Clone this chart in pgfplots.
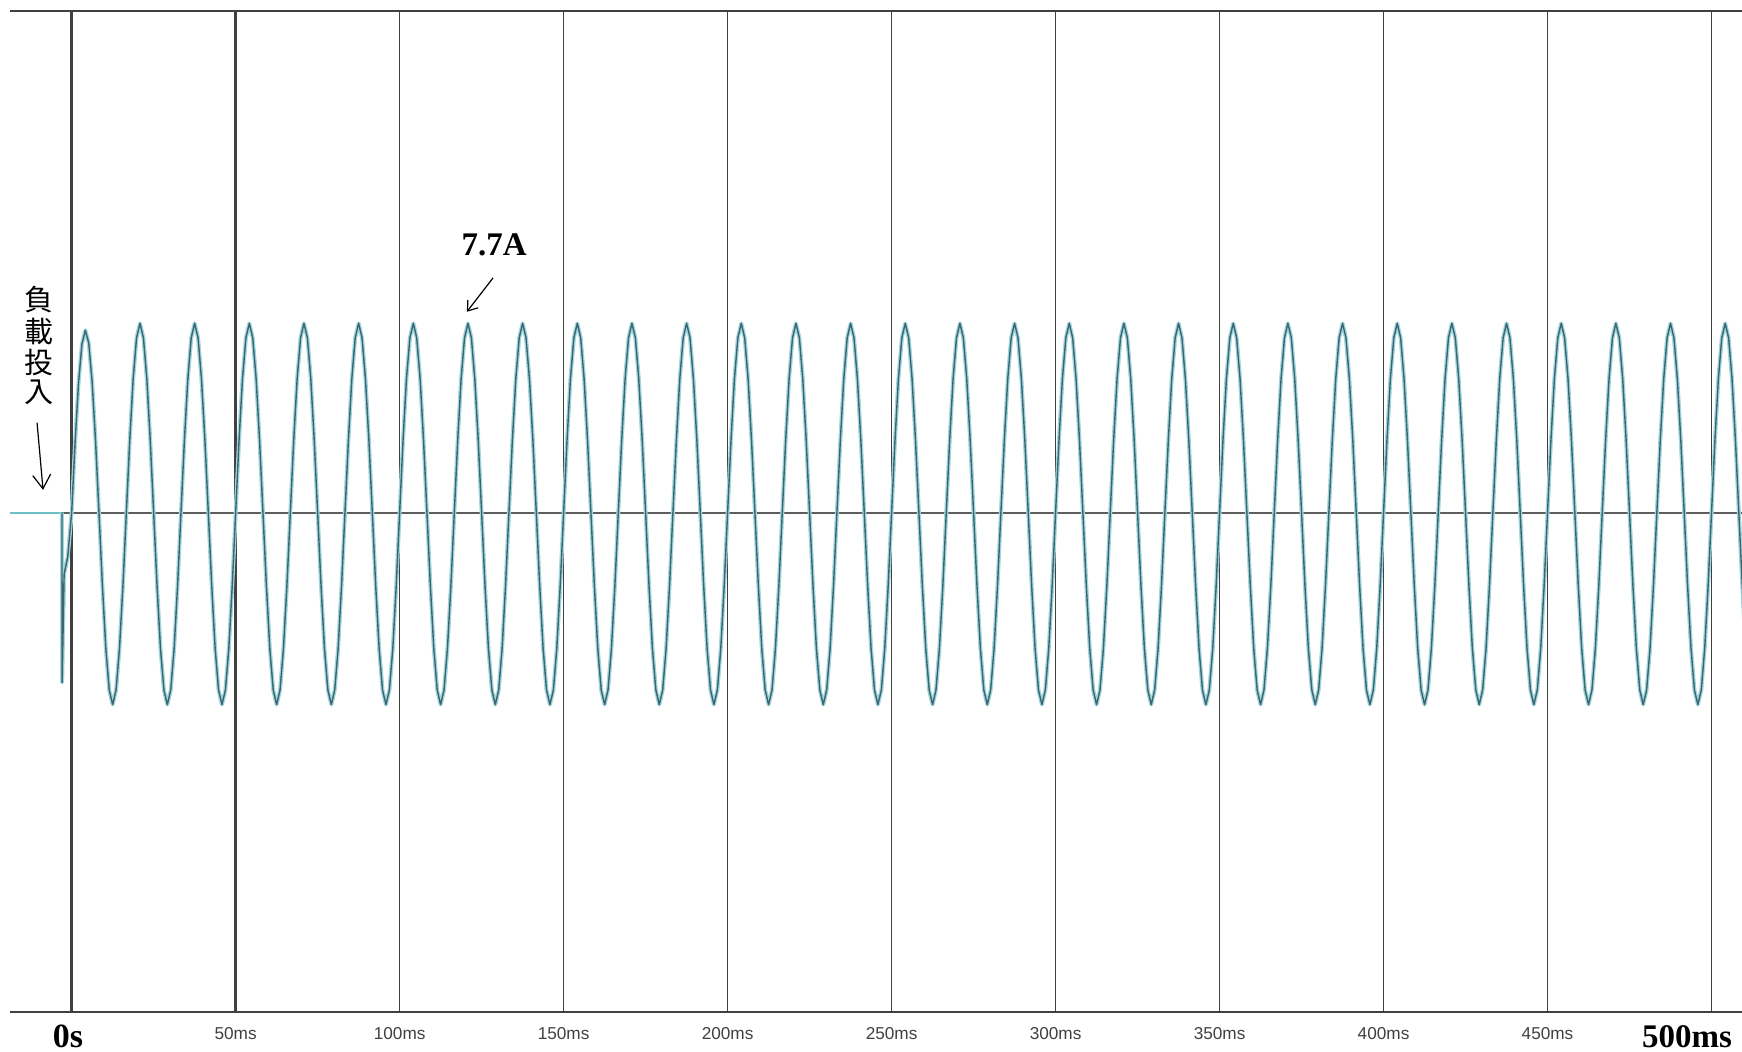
\documentclass[border=0pt]{standalone}
\usepackage{pgfplots}
\usepackage{pgfplotstable}
\pgfplotsset{compat=1.18}
\usepackage{fontspec}
\setmainfont{Liberation Serif}
\newfontfamily\labfont{Liberation Sans}
\newfontfamily\cjk{Noto Sans CJK TC}
\usetikzlibrary{arrows.meta}
\definecolor{gridc}{RGB}{64,64,64}
\definecolor{halo}{RGB}{160,214,224}
\definecolor{trace}{RGB}{62,100,110}
\definecolor{pre}{RGB}{110,190,200}
\definecolor{lab}{RGB}{64,64,64}

\pgfplotstableread[row sep=\\]{
t y\\
-2.95 0\\ -2.9 -6.9\\ -2.3 -2.5\\ -1.2 -1.8\\
0 0\\ 1.04 2.85\\ 2.08 5.25\\ 3.13 6.85\\ 4.17 7.42\\ 5.21 6.9\\ 6.25 5.3\\ 7.29 2.9\\ 8.33 0\\ 9.38 -2.98\\ 10.42 -5.52\\ 11.46 -7.21\\ 12.5 -7.8\\ 13.54 -7.21\\ 14.58 -5.52\\ 15.63 -2.98\\ 16.67 0\\ 17.71 2.95\\ 18.75 5.44\\ 19.79 7.11\\ 20.83 7.7\\ 21.88 7.11\\ 22.92 5.44\\ 23.96 2.95\\
25 0\\ 26.04 -2.98\\ 27.08 -5.52\\ 28.13 -7.21\\ 29.17 -7.8\\ 30.21 -7.21\\ 31.25 -5.52\\ 32.29 -2.98\\ 33.33 0\\ 34.38 2.95\\ 35.42 5.44\\ 36.46 7.11\\ 37.5 7.7\\ 38.54 7.11\\ 39.58 5.44\\ 40.63 2.95\\ 41.67 0\\ 42.71 -2.98\\ 43.75 -5.52\\ 44.79 -7.21\\ 45.83 -7.8\\ 46.88 -7.21\\ 47.92 -5.52\\ 48.96 -2.98\\
50 0\\ 51.04 2.95\\ 52.08 5.44\\ 53.13 7.11\\ 54.17 7.7\\ 55.21 7.11\\ 56.25 5.44\\ 57.29 2.95\\ 58.33 0\\ 59.38 -2.98\\ 60.42 -5.52\\ 61.46 -7.21\\ 62.5 -7.8\\ 63.54 -7.21\\ 64.58 -5.52\\ 65.63 -2.98\\ 66.67 0\\ 67.71 2.95\\ 68.75 5.44\\ 69.79 7.11\\ 70.83 7.7\\ 71.88 7.11\\ 72.92 5.44\\ 73.96 2.95\\
75 0\\ 76.04 -2.98\\ 77.08 -5.52\\ 78.13 -7.21\\ 79.17 -7.8\\ 80.21 -7.21\\ 81.25 -5.52\\ 82.29 -2.98\\ 83.33 0\\ 84.38 2.95\\ 85.42 5.44\\ 86.46 7.11\\ 87.5 7.7\\ 88.54 7.11\\ 89.58 5.44\\ 90.63 2.95\\ 91.67 0\\ 92.71 -2.98\\ 93.75 -5.52\\ 94.79 -7.21\\ 95.83 -7.8\\ 96.88 -7.21\\ 97.92 -5.52\\ 98.96 -2.98\\
100 0\\ 101.04 2.95\\ 102.08 5.44\\ 103.13 7.11\\ 104.17 7.7\\ 105.21 7.11\\ 106.25 5.44\\ 107.29 2.95\\ 108.33 0\\ 109.38 -2.98\\ 110.42 -5.52\\ 111.46 -7.21\\ 112.5 -7.8\\ 113.54 -7.21\\ 114.58 -5.52\\ 115.63 -2.98\\ 116.67 0\\ 117.71 2.95\\ 118.75 5.44\\ 119.79 7.11\\ 120.83 7.7\\ 121.88 7.11\\ 122.92 5.44\\ 123.96 2.95\\
125 0\\ 126.04 -2.98\\ 127.08 -5.52\\ 128.13 -7.21\\ 129.17 -7.8\\ 130.21 -7.21\\ 131.25 -5.52\\ 132.29 -2.98\\ 133.33 0\\ 134.38 2.95\\ 135.42 5.44\\ 136.46 7.11\\ 137.5 7.7\\ 138.54 7.11\\ 139.58 5.44\\ 140.63 2.95\\ 141.67 0\\ 142.71 -2.98\\ 143.75 -5.52\\ 144.79 -7.21\\ 145.83 -7.8\\ 146.88 -7.21\\ 147.92 -5.52\\ 148.96 -2.98\\
150 0\\ 151.04 2.95\\ 152.08 5.44\\ 153.13 7.11\\ 154.17 7.7\\ 155.21 7.11\\ 156.25 5.44\\ 157.29 2.95\\ 158.33 0\\ 159.38 -2.98\\ 160.42 -5.52\\ 161.46 -7.21\\ 162.5 -7.8\\ 163.54 -7.21\\ 164.58 -5.52\\ 165.63 -2.98\\ 166.67 0\\ 167.71 2.95\\ 168.75 5.44\\ 169.79 7.11\\ 170.83 7.7\\ 171.88 7.11\\ 172.92 5.44\\ 173.96 2.95\\
175 0\\ 176.04 -2.98\\ 177.08 -5.52\\ 178.13 -7.21\\ 179.17 -7.8\\ 180.21 -7.21\\ 181.25 -5.52\\ 182.29 -2.98\\ 183.33 0\\ 184.38 2.95\\ 185.42 5.44\\ 186.46 7.11\\ 187.5 7.7\\ 188.54 7.11\\ 189.58 5.44\\ 190.63 2.95\\ 191.67 0\\ 192.71 -2.98\\ 193.75 -5.52\\ 194.79 -7.21\\ 195.83 -7.8\\ 196.88 -7.21\\ 197.92 -5.52\\ 198.96 -2.98\\
200 0\\ 201.04 2.95\\ 202.08 5.44\\ 203.13 7.11\\ 204.17 7.7\\ 205.21 7.11\\ 206.25 5.44\\ 207.29 2.95\\ 208.33 0\\ 209.38 -2.98\\ 210.42 -5.52\\ 211.46 -7.21\\ 212.5 -7.8\\ 213.54 -7.21\\ 214.58 -5.52\\ 215.63 -2.98\\ 216.67 0\\ 217.71 2.95\\ 218.75 5.44\\ 219.79 7.11\\ 220.83 7.7\\ 221.88 7.11\\ 222.92 5.44\\ 223.96 2.95\\
225 0\\ 226.04 -2.98\\ 227.08 -5.52\\ 228.13 -7.21\\ 229.17 -7.8\\ 230.21 -7.21\\ 231.25 -5.52\\ 232.29 -2.98\\ 233.33 0\\ 234.38 2.95\\ 235.42 5.44\\ 236.46 7.11\\ 237.5 7.7\\ 238.54 7.11\\ 239.58 5.44\\ 240.63 2.95\\ 241.67 0\\ 242.71 -2.98\\ 243.75 -5.52\\ 244.79 -7.21\\ 245.83 -7.8\\ 246.88 -7.21\\ 247.92 -5.52\\ 248.96 -2.98\\
250 0\\ 251.04 2.95\\ 252.08 5.44\\ 253.13 7.11\\ 254.17 7.7\\ 255.21 7.11\\ 256.25 5.44\\ 257.29 2.95\\ 258.33 0\\ 259.38 -2.98\\ 260.42 -5.52\\ 261.46 -7.21\\ 262.5 -7.8\\ 263.54 -7.21\\ 264.58 -5.52\\ 265.63 -2.98\\ 266.67 0\\ 267.71 2.95\\ 268.75 5.44\\ 269.79 7.11\\ 270.83 7.7\\ 271.88 7.11\\ 272.92 5.44\\ 273.96 2.95\\
275 0\\ 276.04 -2.98\\ 277.08 -5.52\\ 278.13 -7.21\\ 279.17 -7.8\\ 280.21 -7.21\\ 281.25 -5.52\\ 282.29 -2.98\\ 283.33 0\\ 284.38 2.95\\ 285.42 5.44\\ 286.46 7.11\\ 287.5 7.7\\ 288.54 7.11\\ 289.58 5.44\\ 290.63 2.95\\ 291.67 0\\ 292.71 -2.98\\ 293.75 -5.52\\ 294.79 -7.21\\ 295.83 -7.8\\ 296.88 -7.21\\ 297.92 -5.52\\ 298.96 -2.98\\
300 0\\ 301.04 2.95\\ 302.08 5.44\\ 303.13 7.11\\ 304.17 7.7\\ 305.21 7.11\\ 306.25 5.44\\ 307.29 2.95\\ 308.33 0\\ 309.38 -2.98\\ 310.42 -5.52\\ 311.46 -7.21\\ 312.5 -7.8\\ 313.54 -7.21\\ 314.58 -5.52\\ 315.63 -2.98\\ 316.67 0\\ 317.71 2.95\\ 318.75 5.44\\ 319.79 7.11\\ 320.83 7.7\\ 321.88 7.11\\ 322.92 5.44\\ 323.96 2.95\\
325 0\\ 326.04 -2.98\\ 327.08 -5.52\\ 328.13 -7.21\\ 329.17 -7.8\\ 330.21 -7.21\\ 331.25 -5.52\\ 332.29 -2.98\\ 333.33 0\\ 334.38 2.95\\ 335.42 5.44\\ 336.46 7.11\\ 337.5 7.7\\ 338.54 7.11\\ 339.58 5.44\\ 340.63 2.95\\ 341.67 0\\ 342.71 -2.98\\ 343.75 -5.52\\ 344.79 -7.21\\ 345.83 -7.8\\ 346.88 -7.21\\ 347.92 -5.52\\ 348.96 -2.98\\
350 0\\ 351.04 2.95\\ 352.08 5.44\\ 353.13 7.11\\ 354.17 7.7\\ 355.21 7.11\\ 356.25 5.44\\ 357.29 2.95\\ 358.33 0\\ 359.38 -2.98\\ 360.42 -5.52\\ 361.46 -7.21\\ 362.5 -7.8\\ 363.54 -7.21\\ 364.58 -5.52\\ 365.63 -2.98\\ 366.67 0\\ 367.71 2.95\\ 368.75 5.44\\ 369.79 7.11\\ 370.83 7.7\\ 371.88 7.11\\ 372.92 5.44\\ 373.96 2.95\\
375 0\\ 376.04 -2.98\\ 377.08 -5.52\\ 378.13 -7.21\\ 379.17 -7.8\\ 380.21 -7.21\\ 381.25 -5.52\\ 382.29 -2.98\\ 383.33 0\\ 384.38 2.95\\ 385.42 5.44\\ 386.46 7.11\\ 387.5 7.7\\ 388.54 7.11\\ 389.58 5.44\\ 390.63 2.95\\ 391.67 0\\ 392.71 -2.98\\ 393.75 -5.52\\ 394.79 -7.21\\ 395.83 -7.8\\ 396.88 -7.21\\ 397.92 -5.52\\ 398.96 -2.98\\
400 0\\ 401.04 2.95\\ 402.08 5.44\\ 403.13 7.11\\ 404.17 7.7\\ 405.21 7.11\\ 406.25 5.44\\ 407.29 2.95\\ 408.33 0\\ 409.38 -2.98\\ 410.42 -5.52\\ 411.46 -7.21\\ 412.5 -7.8\\ 413.54 -7.21\\ 414.58 -5.52\\ 415.63 -2.98\\ 416.67 0\\ 417.71 2.95\\ 418.75 5.44\\ 419.79 7.11\\ 420.83 7.7\\ 421.88 7.11\\ 422.92 5.44\\ 423.96 2.95\\
425 0\\ 426.04 -2.98\\ 427.08 -5.52\\ 428.13 -7.21\\ 429.17 -7.8\\ 430.21 -7.21\\ 431.25 -5.52\\ 432.29 -2.98\\ 433.33 0\\ 434.38 2.95\\ 435.42 5.44\\ 436.46 7.11\\ 437.5 7.7\\ 438.54 7.11\\ 439.58 5.44\\ 440.63 2.95\\ 441.67 0\\ 442.71 -2.98\\ 443.75 -5.52\\ 444.79 -7.21\\ 445.83 -7.8\\ 446.88 -7.21\\ 447.92 -5.52\\ 448.96 -2.98\\
450 0\\ 451.04 2.95\\ 452.08 5.44\\ 453.13 7.11\\ 454.17 7.7\\ 455.21 7.11\\ 456.25 5.44\\ 457.29 2.95\\ 458.33 0\\ 459.38 -2.98\\ 460.42 -5.52\\ 461.46 -7.21\\ 462.5 -7.8\\ 463.54 -7.21\\ 464.58 -5.52\\ 465.63 -2.98\\ 466.67 0\\ 467.71 2.95\\ 468.75 5.44\\ 469.79 7.11\\ 470.83 7.7\\ 471.88 7.11\\ 472.92 5.44\\ 473.96 2.95\\
475 0\\ 476.04 -2.98\\ 477.08 -5.52\\ 478.13 -7.21\\ 479.17 -7.8\\ 480.21 -7.21\\ 481.25 -5.52\\ 482.29 -2.98\\ 483.33 0\\ 484.38 2.95\\ 485.42 5.44\\ 486.46 7.11\\ 487.5 7.7\\ 488.54 7.11\\ 489.58 5.44\\ 490.63 2.95\\ 491.67 0\\ 492.71 -2.98\\ 493.75 -5.52\\ 494.79 -7.21\\ 495.83 -7.8\\ 496.88 -7.21\\ 497.92 -5.52\\ 498.96 -2.98\\
500 0\\ 501.04 2.95\\ 502.08 5.44\\ 503.13 7.11\\ 504.17 7.7\\ 505.21 7.11\\ 506.25 5.44\\ 507.29 2.95\\ 508.33 0\\ 509.38 -2.98\\ 510.42 -5.52\\
}\wave

\begin{document}
\begin{tikzpicture}
\begin{axis}[
  at={(0,0)}, anchor=south west,
  scale only axis, width=866bp, height=500.5bp,
  xmin=-18.8, xmax=509.3, ymin=-20.3, ymax=20.4,
  axis line style={draw=none},
  xtick={0,50,...,500},
  xticklabels={,50ms,100ms,150ms,200ms,250ms,300ms,350ms,400ms,450ms,},
  xticklabel style={anchor=base, yshift=-13.5bp, inner sep=0pt, text=lab,
    font=\labfont\fontsize{8.6bp}{10bp}\selectfont},
  ytick=\empty,
  major tick length=0pt,
  xmajorgrids,
  major grid style={line width=0.85bp, gridc},
  clip mode=individual,
]
% frame lines and heavier grid lines
\draw[line width=1bp, gridc] (rel axis cs:0,1) -- (rel axis cs:1,1);
\draw[line width=1bp, gridc] (rel axis cs:0,0) -- (rel axis cs:1,0);
\draw[line width=1.4bp, gridc] (axis cs:0,-20.3) -- (axis cs:0,20.4);
\draw[line width=1.4bp, gridc] (axis cs:50,-20.3) -- (axis cs:50,20.4);

% pre-trigger trace and zero line
\addplot[pre, line width=1.1bp, forget plot] coordinates {(-18.8,0) (-3.0,0)};
\addplot[gridc!85, line width=1bp, forget plot] coordinates {(-2.9,0) (509.3,0)};

% current waveform
\addplot[halo, line width=2bp, line join=round, forget plot] table[x=t, y=y] {\wave};
\addplot[trace, line width=0.7bp, line join=round, forget plot] table[x=t, y=y] {\wave};

% annotations
\node[font=\fontsize{16.5bp}{18bp}\selectfont\bfseries, inner sep=0pt] at (axis cs:128.8,10.9) {7.7A};
\draw[-{Straight Barb[length=4.5bp,width=6.5bp]}, line width=0.6bp] (axis cs:128.5,9.55) -- (axis cs:120.5,8.17);

\node[font=\cjk\fontsize{14.5bp}{15bp}\selectfont, inner sep=0pt] at (axis cs:-9.9,8.66) {負};
\node[font=\cjk\fontsize{14.5bp}{15bp}\selectfont, inner sep=0pt] at (axis cs:-9.9,7.36) {載};
\node[font=\cjk\fontsize{14.5bp}{15bp}\selectfont, inner sep=0pt] at (axis cs:-9.9,6.10) {投};
\node[font=\cjk\fontsize{14.5bp}{15bp}\selectfont, inner sep=0pt] at (axis cs:-9.9,4.88) {入};
\draw[-{Straight Barb[length=7bp,width=9bp]}, line width=0.6bp] (axis cs:-10.55,3.66) -- (axis cs:-8.72,0.93);

% bold end labels
\node[anchor=base, yshift=-17.5bp, inner sep=0pt, font=\fontsize{17bp}{19bp}\selectfont\bfseries] at (axis cs:-1.1,-20.3) {0s};
\node[anchor=base, yshift=-17.5bp, inner sep=0pt, font=\fontsize{16.5bp}{18bp}\selectfont\bfseries] at (axis cs:492.5,-20.3) {500ms};
\end{axis}
\pgfresetboundingbox
\path[use as bounding box] (-5bp,-20bp) rectangle (866bp,506bp);
\end{tikzpicture}
\end{document}
